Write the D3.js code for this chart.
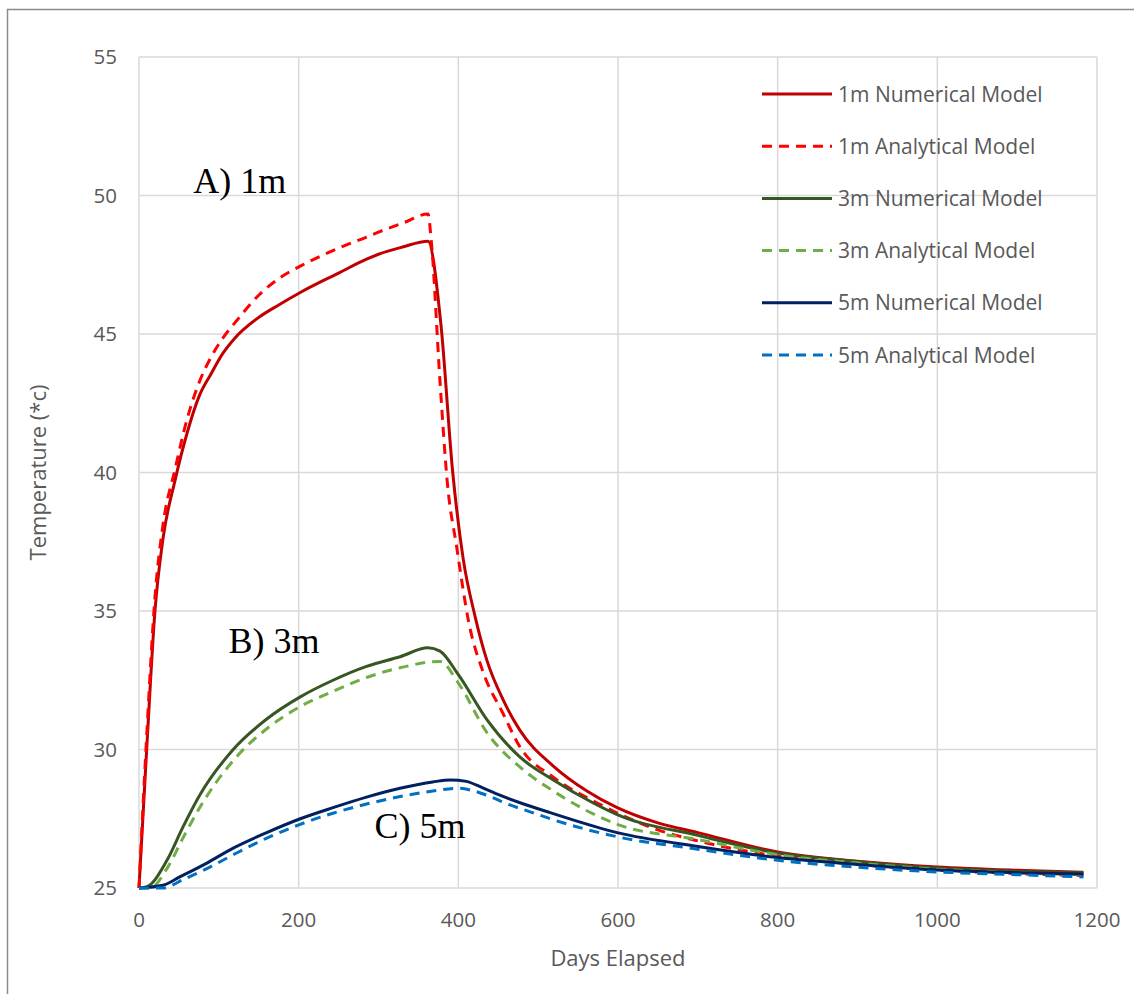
<!DOCTYPE html>
<html>
<head>
<meta charset="utf-8">
<script src="https://cdn.jsdelivr.net/npm/d3@7"></script>
<style>
  body { margin: 0; background: #fff; }
  text { font-family: "Open Sans", Carlito, Calibri, sans-serif; }
</style>
</head>
<body>
<div class="chart"></div>
<script>
// axis ticks
const xTicks = [0, 200, 400, 600, 800, 1000, 1200];
const yTicks = [25, 30, 35, 40, 45, 50, 55];

// 1m depth
const days1mNum = [0, 10, 20, 30, 45, 60, 76, 90, 105, 120, 150, 175, 202, 250, 285, 300, 330, 362, 378, 393, 406, 421, 436, 456, 477, 519, 561, 599, 650, 700, 800, 900, 1000, 1100, 1183];
const temp1mNum = [25, 30.2, 35.0, 37.6, 39.7, 41.4, 42.8, 43.55, 44.3, 44.85, 45.6, 46.05, 46.5, 47.2, 47.7, 47.88, 48.14, 48.35, 45.4, 40.0, 36.9, 34.8, 33.2, 31.8, 30.7, 29.4, 28.5, 27.9, 27.35, 27.0, 26.3, 25.97, 25.76, 25.64, 25.57];
const days1mAna = [0, 10, 20, 30, 45, 60, 76, 90, 105, 120, 150, 175, 202, 250, 285, 300, 330, 362, 366, 377, 386, 398, 413, 431, 456, 477, 519, 574, 650, 700, 800, 900, 1000, 1100, 1183];
const temp1mAna = [25, 30.7, 35.5, 38.1, 40.1, 41.9, 43.3, 44.15, 44.85, 45.4, 46.4, 47.0, 47.45, 48.1, 48.5, 48.68, 49.0, 49.33, 48.4, 43.3, 39.7, 37.3, 34.6, 32.8, 31.3, 30.1, 29.0, 28.07, 27.1, 26.7, 26.15, 25.85, 25.65, 25.52, 25.45];

// 3m depth
const days3mNum = [0, 10, 35, 55, 76, 118, 160, 202, 243, 285, 327, 362, 377, 400, 436, 477, 519, 569, 599, 700, 800, 900, 1000, 1100, 1183];
const temp3mNum = [25, 25.05, 26.0, 27.2, 28.35, 30.0, 31.1, 31.9, 32.5, 33.0, 33.35, 33.67, 33.55, 32.7, 31.07, 29.73, 28.9, 28.07, 27.65, 26.9, 26.26, 25.95, 25.72, 25.6, 25.55];
const days3mAna = [0, 14, 35, 55, 76, 118, 160, 202, 243, 285, 327, 377, 400, 436, 477, 519, 599, 700, 800, 900, 1000, 1100, 1183];
const temp3mAna = [25, 25.0, 25.7, 26.8, 27.9, 29.6, 30.75, 31.55, 32.1, 32.6, 32.95, 33.18, 32.4, 30.6, 29.37, 28.5, 27.3, 26.75, 26.2, 25.9, 25.68, 25.55, 25.48];

// 5m depth
const days5mNum = [0, 30, 51, 85, 118, 160, 202, 243, 285, 327, 368, 390, 410, 430, 452, 480, 515, 599, 700, 800, 900, 1000, 1100, 1183];
const temp5mNum = [25, 25.1, 25.4, 25.9, 26.44, 27.0, 27.5, 27.9, 28.28, 28.6, 28.83, 28.9, 28.85, 28.62, 28.35, 28.05, 27.72, 27.0, 26.5, 26.1, 25.85, 25.65, 25.55, 25.5];
const days5mAna = [0, 30, 55, 85, 118, 160, 202, 243, 285, 327, 368, 400, 420, 440, 460, 490, 515, 599, 700, 800, 900, 1000, 1100, 1183];
const temp5mAna = [25, 25.0, 25.3, 25.7, 26.2, 26.8, 27.3, 27.7, 28.03, 28.3, 28.5, 28.6, 28.5, 28.3, 28.05, 27.75, 27.5, 26.85, 26.4, 26.0, 25.75, 25.58, 25.48, 25.4];

const seriesNames = ["1m Numerical Model", "1m Analytical Model", "3m Numerical Model",
                     "3m Analytical Model", "5m Numerical Model", "5m Analytical Model"];
const seriesColors = ["#c00000", "#ff0000", "#375623", "#70ad47", "#002060", "#0070c0"];
const seriesDashed = [false, true, false, true, false, true];
const seriesDays = [days1mNum, days1mAna, days3mNum, days3mAna, days5mNum, days5mAna];
const seriesTemps = [temp1mNum, temp1mAna, temp3mNum, temp3mAna, temp5mNum, temp5mAna];

const annotations = [
  { label: "A) 1m", day: 68, temp: 50.1 },
  { label: "B) 3m", day: 112, temp: 33.5 },
  { label: "C) 5m", day: 295, temp: 26.8 }
];

const WIDTH = 1134, HEIGHT = 994;
const plot = { left: 139, right: 1097, top: 57, bottom: 888 };

const svg = d3.select(".chart").append("svg")
  .attr("width", WIDTH)
  .attr("height", HEIGHT);

// outer chart frame
svg.append("rect")
  .attr("x", 7.5).attr("y", 9.5)
  .attr("width", WIDTH + 20).attr("height", HEIGHT + 20)
  .attr("fill", "none")
  .attr("stroke", "#8c8c8c")
  .attr("stroke-width", 1.5);

const x = d3.scaleLinear().domain([0, 1200]).range([plot.left, plot.right]);
const y = d3.scaleLinear().domain([25, 55]).range([plot.bottom, plot.top]);

// gridlines
svg.append("g").selectAll("line")
  .data(xTicks)
  .enter().append("line")
  .attr("x1", d => x(d)).attr("x2", d => x(d))
  .attr("y1", plot.top).attr("y2", plot.bottom)
  .attr("stroke", "#d9d9d9").attr("stroke-width", 1.5);

svg.append("g").selectAll("line")
  .data(yTicks)
  .enter().append("line")
  .attr("x1", plot.left).attr("x2", plot.right)
  .attr("y1", d => y(d)).attr("y2", d => y(d))
  .attr("stroke", "#d9d9d9").attr("stroke-width", 1.5);

// tick labels
svg.append("g").selectAll("text")
  .data(xTicks)
  .enter().append("text")
  .attr("x", d => x(d))
  .attr("y", plot.bottom + 39)
  .attr("text-anchor", "middle")
  .attr("font-size", 20.5)
  .attr("fill", "#595959")
  .text(d => d);

svg.append("g").selectAll("text")
  .data(yTicks)
  .enter().append("text")
  .attr("x", plot.left - 22)
  .attr("y", d => y(d) + 7)
  .attr("text-anchor", "end")
  .attr("font-size", 20.5)
  .attr("fill", "#595959")
  .text(d => d);

// axis titles
svg.append("text")
  .attr("x", (plot.left + plot.right) / 2)
  .attr("y", 966)
  .attr("text-anchor", "middle")
  .attr("font-size", 22)
  .attr("fill", "#595959")
  .text("Days Elapsed");

svg.append("text")
  .attr("transform", `translate(46, ${(plot.top + plot.bottom) / 2}) rotate(-90)`)
  .attr("text-anchor", "middle")
  .attr("font-size", 22)
  .attr("fill", "#595959")
  .text("Temperature (*c)");

// series lines
const line = d3.line()
  .x(d => x(d[0]))
  .y(d => y(d[1]))
  .curve(d3.curveMonotoneX);

seriesNames.forEach((name, i) => {
  const pts = seriesDays[i].map((d, j) => [d, seriesTemps[i][j]]);
  svg.append("path")
    .datum(pts)
    .attr("d", line)
    .attr("fill", "none")
    .attr("stroke", seriesColors[i])
    .attr("stroke-width", 3)
    .attr("stroke-linejoin", "round")
    .attr("stroke-dasharray", seriesDashed[i] ? "10,7" : null);
});

// annotations
svg.append("g").selectAll("text")
  .data(annotations)
  .enter().append("text")
  .attr("x", d => x(d.day))
  .attr("y", d => y(d.temp))
  .attr("font-size", 36)
  .attr("fill", "#000")
  .style("font-family", "'Liberation Serif', 'Times New Roman', serif")
  .text(d => d.label);

// legend
const legend = svg.append("g").attr("transform", "translate(762, 94)");
const rows = legend.selectAll("g")
  .data(seriesNames)
  .enter().append("g")
  .attr("transform", (d, i) => `translate(0, ${i * 52.2})`);

rows.append("line")
  .attr("x1", 0).attr("x2", 70)
  .attr("y1", 0).attr("y2", 0)
  .attr("stroke", (d, i) => seriesColors[i])
  .attr("stroke-width", 3)
  .attr("stroke-dasharray", (d, i) => seriesDashed[i] ? "10,7" : null);

rows.append("text")
  .attr("x", 76)
  .attr("y", 7.5)
  .attr("font-size", 21)
  .attr("fill", "#595959")
  .text(d => d);
</script>
</body>
</html>
